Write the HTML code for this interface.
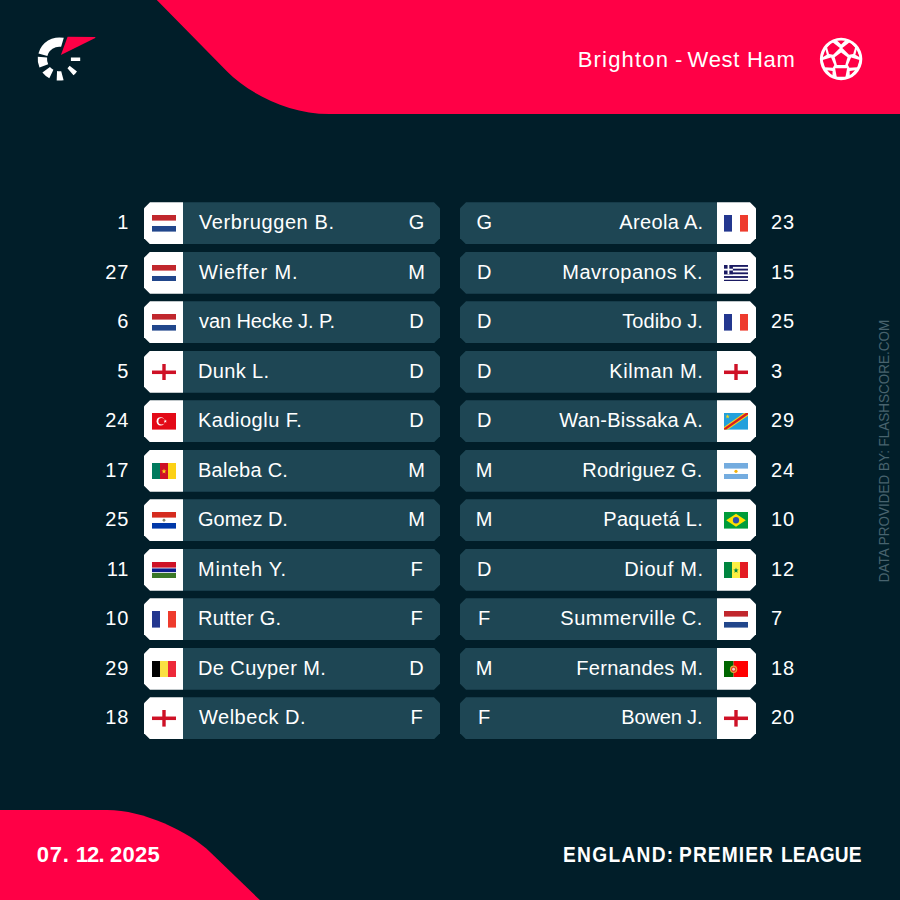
<!DOCTYPE html>
<html><head><meta charset="utf-8"><style>
*{margin:0;padding:0;box-sizing:border-box}
html,body{width:900px;height:900px;overflow:hidden;background:#011e29}
body{position:relative;font-family:"Liberation Sans",sans-serif;color:#fff;-webkit-font-smoothing:antialiased}
.abs{position:absolute;left:0;top:0}
.title{position:absolute;left:577.7px;top:47px;font-size:22px;letter-spacing:0.717px;white-space:nowrap;color:#fff}
.num{position:absolute;height:42px;line-height:42px;margin-top:-1.0px;font-size:20px;width:40px}
.nl{left:89.1px;text-align:right;letter-spacing:0.8px}
.nr{left:771px;text-align:left;letter-spacing:0.9px}
.fboxl,.fboxr{position:absolute;width:39px;height:42px;background:#fff}
.fboxl{left:144px;clip-path:polygon(6px 0,100% 0,100% 100%,6px 100%,0 calc(100% - 6px),0 6px)}
.fboxr{left:717px;clip-path:polygon(0 0,calc(100% - 6px) 0,100% 6px,100% calc(100% - 6px),calc(100% - 6px) 100%,0 100%)}
.fboxl svg{position:absolute;left:7.7px;top:12.9px}
.fboxr svg{position:absolute;left:7.4px;top:12.9px}
.barl,.barr{position:absolute;width:257px;height:42px;background:#1e4654}
.barl{left:183px;clip-path:polygon(0 0,calc(100% - 6px) 0,100% 6px,100% calc(100% - 6px),calc(100% - 6px) 100%,0 100%)}
.barr{left:460px;clip-path:polygon(6px 0,100% 0,100% 100%,6px 100%,0 calc(100% - 6px),0 6px)}
.name{position:absolute;height:42px;line-height:42px;margin-top:-1.0px;font-size:20px;white-space:nowrap}
.pos{position:absolute;height:42px;line-height:42px;margin-top:-1.0px;font-size:20px;width:30px;text-align:center}
.posl{left:401.5px}
.posr{left:469.2px}
.date{position:absolute;top:842px;font-size:22px;font-weight:bold;white-space:nowrap}
.league{position:absolute;top:842.3px;font-size:22px;font-weight:bold;white-space:nowrap;transform:scaleX(0.87);transform-origin:0 0}
.credit{position:absolute;left:883.6px;top:450.6px;font-size:14px;color:#48636e;white-space:nowrap;transform:translate(-50%,-50%) rotate(-90deg) scaleX(0.963)}
</style></head><body>
<svg class="abs" width="900" height="900" viewBox="0 0 900 900">
<path d="M156.8,0 L227.1,71.5 C248.5,93.3 288.8,114.0 329.2,114.0 L900,114.0 L900,0 Z" fill="#ff0046"/>
<path d="M0,810.0 L107.2,810.0 C143.3,810.0 188.8,831.5 210.3,852.2 L259.8,900 L0,900 Z" fill="#ff0046"/>
</svg>
<svg class="abs" width="120" height="100" viewBox="0 0 120 100"><g fill="#fff"><path d="M38.44,53.41 A21.6,21.6 0 0 1 63.79,37.87 L61.12,46.84 A12.3,12.3 0 0 0 47.39,55.92 Z"/><path d="M39.49,67.61 A21.6,21.6 0 0 1 37.82,56.74 L47.08,57.61 A12.3,12.3 0 0 0 48.20,64.30 Z"/><path d="M49.33,78.16 A21.6,21.6 0 0 1 42.40,72.45 L49.95,66.99 A12.3,12.3 0 0 0 53.43,69.81 Z"/><path d="M63.61,80.17 A21.6,21.6 0 0 1 56.67,80.44 L57.06,71.09 A12.3,12.3 0 0 0 61.22,71.15 Z"/><path d="M76.99,71.39 A21.6,21.6 0 0 1 73.47,75.30 L67.45,68.21 A12.3,12.3 0 0 0 69.62,65.70 Z"/><polygon points="70.9,57.5 80.2,57.6 80.2,60.9 70.9,60.9"/></g><polygon points="60.9,55.0 67.6,36.8 95.4,36.9 95.2,38.0" fill="#ff0046"/></svg>
<div class="title" style="left:577.7px;letter-spacing:1.2px">Brighton</div><div class="title" style="left:675.1px;letter-spacing:0">-</div><div class="title" style="left:687.6px;letter-spacing:0.714px">West Ham</div>
<svg class="abs" width="900" height="120" viewBox="0 0 900 120"><defs><clipPath id="bc"><circle cx="841.1" cy="59.0" r="18.4"/></clipPath></defs><circle cx="841.1" cy="59.0" r="21.2" fill="#fff"/><g clip-path="url(#bc)" fill="#ff0046"><polygon points="841.1,52.4 847.5,57.3 845.3,65.0 836.9,65.0 834.7,57.3"/><polygon points="827.1,47.5 832.2,42.1 839.9,48.0 833.1,54.8 829.0,53.9"/><polygon points="855.1,47.5 850.0,42.1 842.3,48.0 849.1,54.8 853.2,53.9"/><polygon points="822.6,60.0 831.1,57.5 834.3,65.1 832.8,67.7 824.9,67.2"/><polygon points="859.6,60.0 851.1,57.5 847.9,65.1 849.4,67.7 857.3,67.2"/><polygon points="835.1,68.3 847.1,68.3 845.5,76.8 836.7,76.8"/><polygon points="836.3,39.8 845.9,39.8 841.1,44.5"/><polygon points="822.2,57.4 825.5,49.5 826.8,54.7"/><polygon points="860.0,57.4 856.7,49.5 855.4,54.7"/><polygon points="827.2,70.2 832.6,71.1 832.4,75.9"/><polygon points="855.0,70.2 849.6,71.1 849.8,75.9"/></g></svg>
<div class="num nl" style="top:202.30px">1</div><div class="fboxl" style="top:202.30px"><svg width="24" height="16.6" viewBox="0 0 24 16" preserveAspectRatio="none"><rect y="0" width="24" height="5.4" fill="#c1272d"/><rect y="10.6" width="24" height="5.4" fill="#21468b"/></svg></div><div class="barl" style="top:202.30px"></div><div class="name" style="top:202.30px;left:199.00px;letter-spacing:0.592px">Verbruggen B.</div><div class="pos posl" style="top:202.30px">G</div><div class="num nl" style="top:251.80px">27</div><div class="fboxl" style="top:251.80px"><svg width="24" height="16.6" viewBox="0 0 24 16" preserveAspectRatio="none"><rect y="0" width="24" height="5.4" fill="#c1272d"/><rect y="10.6" width="24" height="5.4" fill="#21468b"/></svg></div><div class="barl" style="top:251.80px"></div><div class="name" style="top:251.80px;left:199.00px;letter-spacing:0.878px">Wieffer M.</div><div class="pos posl" style="top:251.80px">M</div><div class="num nl" style="top:301.30px">6</div><div class="fboxl" style="top:301.30px"><svg width="24" height="16.6" viewBox="0 0 24 16" preserveAspectRatio="none"><rect y="0" width="24" height="5.4" fill="#c1272d"/><rect y="10.6" width="24" height="5.4" fill="#21468b"/></svg></div><div class="barl" style="top:301.30px"></div><div class="name" style="top:301.30px;left:199.00px;letter-spacing:-0.093px">van Hecke J. P.</div><div class="pos posl" style="top:301.30px">D</div><div class="num nl" style="top:350.80px">5</div><div class="fboxl" style="top:350.80px"><svg width="24" height="16.6" viewBox="0 0 24 16" preserveAspectRatio="none"><rect x="10.3" y="0" width="3.4" height="16" fill="#ce1126"/><rect x="0" y="6.3" width="24" height="3.4" fill="#ce1126"/></svg></div><div class="barl" style="top:350.80px"></div><div class="name" style="top:350.80px;left:198.00px;letter-spacing:0.35px">Dunk L.</div><div class="pos posl" style="top:350.80px">D</div><div class="num nl" style="top:400.30px">24</div><div class="fboxl" style="top:400.30px"><svg width="24" height="16.6" viewBox="0 0 24 16" preserveAspectRatio="none"><rect width="24" height="16" fill="#e30a17"/><circle cx="8.6" cy="8" r="4" fill="#fff"/><circle cx="9.6" cy="8" r="3.2" fill="#e30a17"/><polygon points="13.30,6.20 13.72,7.42 15.01,7.44 13.98,8.22 14.36,9.46 13.30,8.72 12.24,9.46 12.62,8.22 11.59,7.44 12.88,7.42" fill="#fff"/></svg></div><div class="barl" style="top:400.30px"></div><div class="name" style="top:400.30px;left:198.00px;letter-spacing:0.49px">Kadioglu F.</div><div class="pos posl" style="top:400.30px">D</div><div class="num nl" style="top:449.80px">17</div><div class="fboxl" style="top:449.80px"><svg width="24" height="16.6" viewBox="0 0 24 16" preserveAspectRatio="none"><rect width="8" height="16" fill="#007a5e"/><rect x="8" width="8" height="16" fill="#ce1126"/><rect x="16" width="8" height="16" fill="#fcd116"/><polygon points="12.00,5.40 12.61,7.16 14.47,7.20 12.99,8.32 13.53,10.10 12.00,9.04 10.47,10.10 11.01,8.32 9.53,7.20 11.39,7.16" fill="#fcd116"/></svg></div><div class="barl" style="top:449.80px"></div><div class="name" style="top:449.80px;left:198.00px;letter-spacing:0.262px">Baleba C.</div><div class="pos posl" style="top:449.80px">M</div><div class="num nl" style="top:499.30px">25</div><div class="fboxl" style="top:499.30px"><svg width="24" height="16.6" viewBox="0 0 24 16" preserveAspectRatio="none"><rect width="24" height="5.4" fill="#d52b1e"/><rect y="10.6" width="24" height="5.4" fill="#0038a8"/><circle cx="12" cy="8" r="1.4" fill="#8a8a70"/></svg></div><div class="barl" style="top:499.30px"></div><div class="name" style="top:499.30px;left:198.00px;letter-spacing:-0.014px">Gomez D.</div><div class="pos posl" style="top:499.30px">M</div><div class="num nl" style="top:548.80px">11</div><div class="fboxl" style="top:548.80px"><svg width="24" height="16.6" viewBox="0 0 24 16" preserveAspectRatio="none"><rect width="24" height="5.4" fill="#ce1126"/><rect y="6.2" width="24" height="3.6" fill="#0c1c8c"/><rect y="10.6" width="24" height="5.4" fill="#3a7728"/></svg></div><div class="barl" style="top:548.80px"></div><div class="name" style="top:548.80px;left:198.00px;letter-spacing:0.8px">Minteh Y.</div><div class="pos posl" style="top:548.80px">F</div><div class="num nl" style="top:598.30px">10</div><div class="fboxl" style="top:598.30px"><svg width="24" height="16.6" viewBox="0 0 24 16" preserveAspectRatio="none"><rect x="0" width="8" height="16" fill="#23378f"/><rect x="16" width="8" height="16" fill="#ee3b2d"/></svg></div><div class="barl" style="top:598.30px"></div><div class="name" style="top:598.30px;left:198.00px;letter-spacing:0.25px">Rutter G.</div><div class="pos posl" style="top:598.30px">F</div><div class="num nl" style="top:647.80px">29</div><div class="fboxl" style="top:647.80px"><svg width="24" height="16.6" viewBox="0 0 24 16" preserveAspectRatio="none"><rect width="8" height="16" fill="#000"/><rect x="8" width="8" height="16" fill="#fae042"/><rect x="16" width="8" height="16" fill="#ed2939"/></svg></div><div class="barl" style="top:647.80px"></div><div class="name" style="top:647.80px;left:198.00px;letter-spacing:0.4px">De Cuyper M.</div><div class="pos posl" style="top:647.80px">D</div><div class="num nl" style="top:697.30px">18</div><div class="fboxl" style="top:697.30px"><svg width="24" height="16.6" viewBox="0 0 24 16" preserveAspectRatio="none"><rect x="10.3" y="0" width="3.4" height="16" fill="#ce1126"/><rect x="0" y="6.3" width="24" height="3.4" fill="#ce1126"/></svg></div><div class="barl" style="top:697.30px"></div><div class="name" style="top:697.30px;left:199.00px;letter-spacing:0.511px">Welbeck D.</div><div class="pos posl" style="top:697.30px">F</div><div class="num nr" style="top:202.30px">23</div><div class="barr" style="top:202.30px"></div><div class="fboxr" style="top:202.30px"><svg width="24" height="16.6" viewBox="0 0 24 16" preserveAspectRatio="none"><rect x="0" width="8" height="16" fill="#23378f"/><rect x="16" width="8" height="16" fill="#ee3b2d"/></svg></div><div class="name" style="top:202.30px;left:619.30px;letter-spacing:0.338px">Areola A.</div><div class="pos posr" style="top:202.30px">G</div><div class="num nr" style="top:251.80px">15</div><div class="barr" style="top:251.80px"></div><div class="fboxr" style="top:251.80px"><svg width="24" height="16.6" viewBox="0 0 24 16" preserveAspectRatio="none"><rect y="0.000" width="24" height="1.778" fill="#1a1a62"/><rect y="3.556" width="24" height="1.778" fill="#1a1a62"/><rect y="7.112" width="24" height="1.778" fill="#1a1a62"/><rect y="10.668" width="24" height="1.778" fill="#1a1a62"/><rect y="14.224" width="24" height="1.778" fill="#1a1a62"/><rect width="8.9" height="8.9" fill="#1a1a62"/><rect x="3.55" width="1.78" height="8.9" fill="#fff"/><rect y="3.55" width="8.9" height="1.78" fill="#fff"/></svg></div><div class="name" style="top:251.80px;left:562.30px;letter-spacing:0.483px">Mavropanos K.</div><div class="pos posr" style="top:251.80px">D</div><div class="num nr" style="top:301.30px">25</div><div class="barr" style="top:301.30px"></div><div class="fboxr" style="top:301.30px"><svg width="24" height="16.6" viewBox="0 0 24 16" preserveAspectRatio="none"><rect x="0" width="8" height="16" fill="#23378f"/><rect x="16" width="8" height="16" fill="#ee3b2d"/></svg></div><div class="name" style="top:301.30px;left:622.30px;letter-spacing:0.062px">Todibo J.</div><div class="pos posr" style="top:301.30px">D</div><div class="num nr" style="top:350.80px">3</div><div class="barr" style="top:350.80px"></div><div class="fboxr" style="top:350.80px"><svg width="24" height="16.6" viewBox="0 0 24 16" preserveAspectRatio="none"><rect x="10.3" y="0" width="3.4" height="16" fill="#ce1126"/><rect x="0" y="6.3" width="24" height="3.4" fill="#ce1126"/></svg></div><div class="name" style="top:350.80px;left:609.30px;letter-spacing:0.562px">Kilman M.</div><div class="pos posr" style="top:350.80px">D</div><div class="num nr" style="top:400.30px">29</div><div class="barr" style="top:400.30px"></div><div class="fboxr" style="top:400.30px"><svg width="24" height="16.6" viewBox="0 0 24 16" preserveAspectRatio="none"><rect width="24" height="16" fill="#22a0dc"/><polygon points="0,13.4 20,0 24,0 24,2.6 4,16 0,16" fill="#f7d618"/><polygon points="0,14.6 21.8,0 24,0 24,1.4 2.2,16 0,16" fill="#d81e1e"/><polygon points="3.60,1.10 4.14,2.66 5.79,2.69 4.47,3.68 4.95,5.26 3.60,4.32 2.25,5.26 2.73,3.68 1.41,2.69 3.06,2.66" fill="#f7d618"/></svg></div><div class="name" style="top:400.30px;left:559.30px;letter-spacing:0.231px">Wan-Bissaka A.</div><div class="pos posr" style="top:400.30px">D</div><div class="num nr" style="top:449.80px">24</div><div class="barr" style="top:449.80px"></div><div class="fboxr" style="top:449.80px"><svg width="24" height="16.6" viewBox="0 0 24 16" preserveAspectRatio="none"><rect width="24" height="5.4" fill="#74acdf"/><rect y="10.6" width="24" height="5.4" fill="#74acdf"/><circle cx="12" cy="8" r="1.6" fill="#f6b40e"/></svg></div><div class="name" style="top:449.80px;left:582.30px;letter-spacing:0.209px">Rodriguez G.</div><div class="pos posr" style="top:449.80px">M</div><div class="num nr" style="top:499.30px">10</div><div class="barr" style="top:499.30px"></div><div class="fboxr" style="top:499.30px"><svg width="24" height="16.6" viewBox="0 0 24 16" preserveAspectRatio="none"><rect width="24" height="16" fill="#009c3b"/><polygon points="12,1.8 21.8,8 12,14.2 2.2,8" fill="#ffdf00"/><circle cx="12" cy="8" r="3.1" fill="#2f4fae"/></svg></div><div class="name" style="top:499.30px;left:603.30px;letter-spacing:0.3px">Paquetá L.</div><div class="pos posr" style="top:499.30px">M</div><div class="num nr" style="top:548.80px">12</div><div class="barr" style="top:548.80px"></div><div class="fboxr" style="top:548.80px"><svg width="24" height="16.6" viewBox="0 0 24 16" preserveAspectRatio="none"><rect width="8" height="16" fill="#00853f"/><rect x="8" width="8" height="16" fill="#fdef42"/><rect x="16" width="8" height="16" fill="#e31b23"/><polygon points="12.00,5.40 12.66,7.29 14.66,7.33 13.07,8.55 13.65,10.47 12.00,9.32 10.35,10.47 10.93,8.55 9.34,7.33 11.34,7.29" fill="#00853f"/></svg></div><div class="name" style="top:548.80px;left:624.30px;letter-spacing:0.6px">Diouf M.</div><div class="pos posr" style="top:548.80px">D</div><div class="num nr" style="top:598.30px">7</div><div class="barr" style="top:598.30px"></div><div class="fboxr" style="top:598.30px"><svg width="24" height="16.6" viewBox="0 0 24 16" preserveAspectRatio="none"><rect y="0" width="24" height="5.4" fill="#c1272d"/><rect y="10.6" width="24" height="5.4" fill="#21468b"/></svg></div><div class="name" style="top:598.30px;left:560.30px;letter-spacing:0.5px">Summerville C.</div><div class="pos posr" style="top:598.30px">F</div><div class="num nr" style="top:647.80px">18</div><div class="barr" style="top:647.80px"></div><div class="fboxr" style="top:647.80px"><svg width="24" height="16.6" viewBox="0 0 24 16" preserveAspectRatio="none"><rect width="9.6" height="16" fill="#006600"/><rect x="9.6" width="14.4" height="16" fill="#ff0000"/><circle cx="9.6" cy="8" r="3.6" fill="#e9a93a"/><circle cx="9.6" cy="8" r="2.5" fill="#e0392a"/><circle cx="9.6" cy="8" r="1.4" fill="#f2d6c4"/></svg></div><div class="name" style="top:647.80px;left:576.30px;letter-spacing:0.3px">Fernandes M.</div><div class="pos posr" style="top:647.80px">M</div><div class="num nr" style="top:697.30px">20</div><div class="barr" style="top:697.30px"></div><div class="fboxr" style="top:697.30px"><svg width="24" height="16.6" viewBox="0 0 24 16" preserveAspectRatio="none"><rect x="10.3" y="0" width="3.4" height="16" fill="#ce1126"/><rect x="0" y="6.3" width="24" height="3.4" fill="#ce1126"/></svg></div><div class="name" style="top:697.30px;left:621.30px;letter-spacing:-0.157px">Bowen J.</div><div class="pos posr" style="top:697.30px">F</div>
<div class="date" style="left:36.8px;letter-spacing:0.75px">07.</div><div class="date" style="left:75.7px;letter-spacing:-0.8px">12.</div><div class="date" style="left:109.9px;letter-spacing:0.33px">2025</div>
<div class="league" style="left:563.03px;letter-spacing:1.51px">ENGLAND:</div><div class="league" style="left:678.53px;letter-spacing:1.28px">PREMIER</div><div class="league" style="left:781.13px;letter-spacing:0.18px">LEAGUE</div>
<div class="credit">DATA PROVIDED BY: FLASHSCORE.COM</div>
</body></html>
